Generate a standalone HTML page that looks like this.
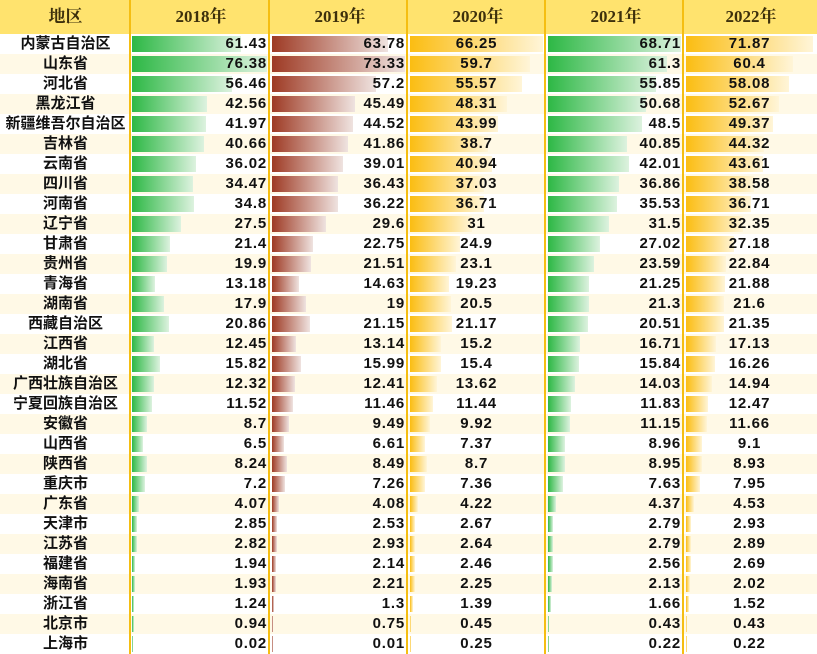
<!DOCTYPE html>
<html><head><meta charset="utf-8">
<style>
body{margin:0;width:817px;height:654px;overflow:hidden;background:#fff;font-family:"Liberation Sans","Noto Sans CJK SC",sans-serif;}
#t{position:absolute;left:0;top:0;width:817px;height:654px;}
.c{position:absolute;box-sizing:border-box;}
.hd{background:#FFE36E;color:#3d300c;font-size:17px;font-weight:bold;font-family:"Liberation Serif","Noto Serif CJK SC",serif;text-align:center;line-height:34px;top:0;height:34px;}
.rl{font-weight:bold;font-size:15px;text-align:center;line-height:20px;color:#111;}
.v{font-weight:bold;font-size:15px;line-height:20px;color:#111;letter-spacing:0.8px;}
.bar{position:absolute;height:16px;}
.sep{position:absolute;top:0;width:2px;height:654px;background:#F5BE12;}
</style></head><body>
<div id="t"></div>
<script>
const regions=["内蒙古自治区","山东省","河北省","黑龙江省","新疆维吾尔自治区","吉林省","云南省","四川省","河南省","辽宁省","甘肃省","贵州省","青海省","湖南省","西藏自治区","江西省","湖北省","广西壮族自治区","宁夏回族自治区","安徽省","山西省","陕西省","重庆市","广东省","天津市","江苏省","福建省","海南省","浙江省","北京市","上海市"];
const years=["2018年","2019年","2020年","2021年","2022年"];
const v2018=[61.43,76.38,56.46,42.56,41.97,40.66,36.02,34.47,34.8,27.5,21.4,19.9,13.18,17.9,20.86,12.45,15.82,12.32,11.52,8.7,6.5,8.24,7.2,4.07,2.85,2.82,1.94,1.93,1.24,0.94,0.02];
const v2019=[63.78,73.33,57.2,45.49,44.52,41.86,39.01,36.43,36.22,29.6,22.75,21.51,14.63,19,21.15,13.14,15.99,12.41,11.46,9.49,6.61,8.49,7.26,4.08,2.53,2.93,2.14,2.21,1.3,0.75,0.01];
const v2020=[66.25,59.7,55.57,48.31,43.99,38.7,40.94,37.03,36.71,31,24.9,23.1,19.23,20.5,21.17,15.2,15.4,13.62,11.44,9.92,7.37,8.7,7.36,4.22,2.67,2.64,2.46,2.25,1.39,0.45,0.25];
const v2021=[68.71,61.3,55.85,50.68,48.5,40.85,42.01,36.86,35.53,31.5,27.02,23.59,21.25,21.3,20.51,16.71,15.84,14.03,11.83,11.15,8.96,8.95,7.63,4.37,2.79,2.79,2.56,2.13,1.66,0.43,0.22];
const v2022=[71.87,60.4,58.08,52.67,49.37,44.32,43.61,38.58,36.71,32.35,27.18,22.84,21.88,21.6,21.35,17.13,16.26,14.94,12.47,11.66,9.1,8.93,7.95,4.53,2.93,2.89,2.69,2.02,1.52,0.43,0.22];
const series=[v2018,v2019,v2020,v2021,v2022];
const colX=[0,131,271,409,547,685,817];
const grads=["linear-gradient(90deg,#2DB845,#DDF2DF)","linear-gradient(90deg,#9E3A24,#EFE3E0)","linear-gradient(90deg,#FBBD12,#FFF5D8)","linear-gradient(90deg,#2DB845,#DDF2DF)","linear-gradient(90deg,#FBBD12,#FFF5D8)"];
const aligns=["right","right","center","right","center"];
const T=document.getElementById('t');
const H0=34,RH=20;
function mk(cls,css){const d=document.createElement('div');d.className=cls;d.style.cssText=css;T.appendChild(d);return d;}
let h=mk('c hd','left:0;width:131px;');h.textContent='地区';


years.forEach((y,i)=>{const e=mk('c hd',`left:${colX[i+1]}px;width:${colX[i+2]-colX[i+1]}px;`);e.textContent=y;

});
regions.forEach((r,ri)=>{
  const top=H0+ri*RH;
  const bg=mk('c',`left:0;top:${top}px;width:817px;height:${RH}px;background:${ri%2?'#FFF9E6':'#fff'};`);
  
  
  const l=mk('c rl',`left:0;top:${top}px;width:131px;height:${RH}px;`);l.textContent=r;
  
  
  series.forEach((s,si)=>{
    const x0=colX[si+1]+1,w=colX[si+2]-colX[si+1]-5;
    const mx=Math.max(...s);
    const b=mk('bar',`left:${x0}px;top:${top+2}px;width:${Math.max(1,s[ri]/mx*w)}px;background:${grads[si]};`);
    
    
    const t=mk('c v',`left:${x0}px;top:${top}px;width:${w}px;height:${RH}px;text-align:${aligns[si]};`);
    t.textContent=s[ri];
    
    
  });
});
[129,268,406,544,682].forEach(x=>{const s=mk('sep',`left:${x}px;`);

});
</script>
</body></html>
